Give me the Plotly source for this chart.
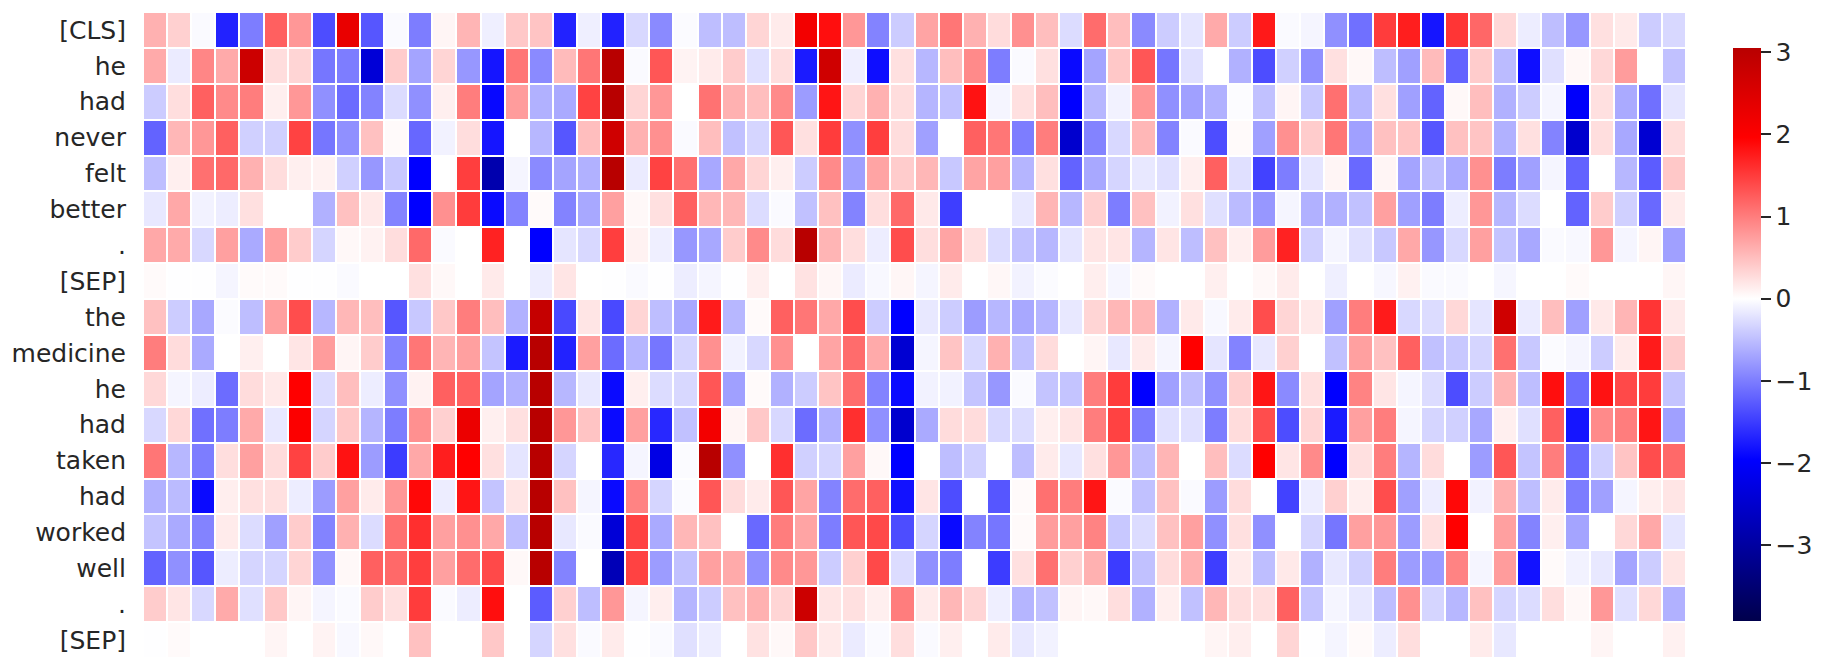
import plotly.graph_objects as go

tokens = ["[CLS]", "he", "had", "never", "felt", "better", ".", "[SEP]", "the", "medicine",
          "he", "had", "taken", "had", "worked", "well", ".", "[SEP]"]

r00 = [.6,.36,-.04,-1.7,-1,1.22,.8,-1.37,2.3,-1.3,-.04,-1,.08,.57,-.12,.42,.45,-1.7,-.12,
       -1.7,-.3,-.9,-.03,-.5,-.5,.32,.15,2.15,1.85,.8,-.95,-.39,.7,1.05,.6,.27,.85,.5,-.27,1.13,.5,-.9,-.39,-.2,
       .65,-.39,1.77,-.04,-.08,-.85,-1.1,1.5,1.73,-1.8,1.55,1.17,.3,-.14,-.5,-.8,.24,.16,-.39,-.3]
r01 = [.65,-.15,.93,.65,2.75,.26,.32,-1.05,-1,-2.4,.39,-.7,.32,-.8,-1.8,1.05,-.9,.52,1.05,
       3.05,-.04,1.3,.09,.15,.39,-.24,.25,-1.75,2.7,-.12,-1.85,.24,-.55,.5,.9,-1,-.04,.24,-1.88,-.7,.42,1.3,-1.05,-.24,
       0,-.6,-1.37,-.36,-.85,.24,.05,-.5,-.73,.52,-1.2,.39,-.52,-1.85,-.24,.05,.3,.76,0,-.48]
r02 = [-.39,.25,1.22,.9,1,.12,.8,-.85,-1.13,-.95,-.27,-.85,.12,1,-1.9,.76,-.6,-.65,1.45,
       3.05,.32,.8,0,1.08,.6,.5,.9,-.76,1.8,.32,.6,.26,-.57,-.48,1.82,-.08,.24,.5,-1.96,-.55,-.1,.8,-.85,-.73,
       -.6,-.02,-.48,.08,-.42,1.1,-.55,.24,-.73,-1.2,.05,.5,-.6,-.39,-.08,-2.0,.24,-.65,-1.1,-.2]
r03 = [-1.2,.55,.8,1.22,-.36,-.36,1.45,-1.05,-.85,.48,.04,-1.17,-.1,.26,-1.8,0,-.55,-1.3,.5,
       2.7,.6,.85,-.04,.5,-.48,-.32,1.3,.24,1.5,-.85,1.48,.26,-.73,0,1.22,1.05,-1,1,-2.5,-.95,-.3,.55,-.95,-.04,
       -1.37,.04,-.73,.85,.39,1.05,-.73,.48,.45,-1.3,.48,.45,-.6,.24,-.95,-2.5,.25,-.67,-2.45,.26]
r04 = [-.5,.12,1.1,1.15,.6,.26,.12,.1,-.36,-.8,-.42,-1.96,0,1.48,-2.85,-.08,-.9,-.7,-.6,
       3.05,-.15,1.45,1.1,-.67,.67,.32,.12,-.39,.9,-.73,.7,.39,.55,-.42,.7,.73,-.57,.24,-1.2,-.67,-.32,-.18,-.24,.12,
       1.22,-.24,-1.45,-1,-.2,.08,-1.15,.08,-.7,-.5,-.65,.85,-1,-.73,-.08,-1.2,0,-.55,-1.25,.42]
r05 = [-.18,.67,-.1,-.14,.24,0,0,-.6,.48,.17,-.95,-1.96,.85,1.5,-1.88,-.95,.04,-.95,-.67,
       .73,.05,.24,1.22,.55,.55,-.27,-.04,-.48,.48,-.95,.25,1.15,.17,-1.48,0,0,-.18,.57,-.55,.36,-1,.48,-.1,.24,
       -.24,-.52,-.8,-.08,-.6,-.6,-.48,.73,-.73,-1,-.14,.8,-.55,-.27,0,-1.2,.39,-.36,-1.15,.15]
r06 = [.67,.65,-.3,.73,-.65,.73,.39,-.32,.05,.1,.26,1.15,-.04,0,1.7,0,-1.96,-.2,-.3,
       1.48,.1,-.12,-.8,-.67,.39,.9,.27,3.05,.57,.25,-.14,1.37,.25,.7,.24,-.27,-.48,-.55,-.2,.2,.2,-.57,.2,-.5,
       .48,.12,.76,1.7,-.36,-.08,-.24,-.42,.67,-.8,-.3,.73,-.45,-.67,-.04,-.05,.8,-.08,.08,-.73]
r07 = [.04,-.01,-.01,-.08,.04,.04,-.01,-.01,-.04,0,0,.24,.05,0,.16,0,-.14,.2,0,
       -.01,-.04,-.01,-.14,-.08,-.01,.12,0,.22,.07,-.15,-.05,.07,-.08,.15,0,.06,-.1,-.03,0,.13,-.07,.04,0,0,
       .12,0,.05,.15,0,-.12,0,-.06,.11,-.04,-.04,0,-.07,0,0,.04,0,0,0,.07]
r08 = [.48,-.39,-.67,-.03,-.5,.73,1.37,-.55,.55,.5,-1.3,-.42,.42,1,.5,-.6,2.85,-1.4,.2,
       -1.4,.32,-.5,-.67,1.75,-.55,.04,1.22,1.05,.67,1.37,-.39,-1.96,-.18,-.39,-.76,-.55,-.67,-.57,-.18,.32,.55,.55,-.6,.16,
       -.05,.15,1.37,.32,.17,-.73,1,1.75,-.3,-.27,.3,-.2,2.7,-.15,.5,-.73,.17,.57,1.55,.17]
r09 = [1,.27,-.65,0,.12,0,.2,.76,.08,.39,-.95,1.05,.57,.73,-.45,-1.75,3.05,-1.7,.73,
       -1.13,-.57,-1.05,-.32,.85,-.1,-.3,.85,0,.7,1.13,.65,-2.45,-.08,.45,-.3,.6,-.48,.27,0,.08,-.18,.15,-.08,1.96,
       -.2,-.95,-.18,.36,0,-.48,.73,.48,1.22,-.48,-.42,-.32,1.1,-.42,-.03,-.08,-.39,.15,1.75,.39]
r10 = [.3,-.08,-.14,-1.13,.27,.17,1.96,-.27,.5,-.14,-.85,.1,1.22,1.22,-.7,-.6,3.05,-.55,-.18,
       -1.88,.12,-.27,-.3,1.3,-.73,.04,-.6,-.39,.45,1.13,-.95,-1.88,-.1,-.1,-.45,-.8,-.04,-.45,-.45,1,1.5,-1.96,-.73,-.5,
       -.85,.36,1.8,-.9,.24,-1.96,.95,.2,-.08,-.27,-1.37,-.39,.57,-.5,1.85,-1.13,1.82,1.4,1.5,-.45]
r11 = [-.3,.3,-1.1,-1,.65,-.18,2.0,-.32,.42,-.57,-1,.85,.36,2.25,.12,.24,3.05,.8,.45,
       -1.88,.73,-1.65,-.48,2.15,.08,.42,-.3,-1.13,-.6,1.6,-.85,-2.5,-.65,.27,.27,-.3,-.27,.12,.2,1,1.45,-1,-.24,-.24,
       -1,.27,1.37,-1.37,.32,-1.75,.73,1,-.08,-.32,-.36,-.67,.12,-.24,1.22,-1.8,.9,1,1.8,-.73]
r12 = [1.05,-.55,-1,.25,.73,.27,1.45,.39,1.82,-.76,-1.5,.67,1.73,1.96,.24,-.2,3.05,-.32,0,
       -1.65,-.08,-2.25,-.03,3.05,-.85,0,1.6,-.36,-.32,.73,.05,-1.96,0,-.5,-.36,0,-.5,.15,-.18,.24,.8,-.5,.57,0,
       .5,-.27,1.96,.2,.9,-1.96,.24,1,-.57,.27,0,-.76,1.3,-.45,1,-1.15,-.36,.45,1.37,1.15]
r13 = [-.6,-.52,-1.88,.13,.24,.24,-.14,-.76,.73,.15,.8,1.9,-.14,1.8,-.45,.2,3.05,.48,-.08,
       -1.88,.95,-.32,-.03,1.3,.27,.15,1.3,.7,-.95,1.13,1.22,-1.82,.2,-1.37,0,-1.3,.04,1.1,1,1.8,-.04,-.48,.48,-.04,
       -.76,.27,0,-1.45,-.14,.36,.13,1.37,-.73,-.14,1.9,-.1,.6,-.5,.15,-1,-.73,-.08,.13,.2]
r14 = [-.45,-.65,-.95,.15,-.27,-.73,.39,-.95,.6,-.27,1.1,1.6,.73,.85,.67,-.5,3.05,-.18,-.04,
       -2.4,1.45,-.65,.55,.48,0,-1.15,1,.7,-1,1.3,1.4,-1.37,-.32,-1.88,-.95,-1.05,.04,.76,.73,.95,-.42,-.27,.48,.73,
       -.85,.24,-.85,0,-.32,-1.05,.73,.8,-.76,.24,1.96,0,.73,-.95,.12,-.7,0,.3,.67,-.2]
r15 = [-1.2,-.85,-1.3,-.14,-.32,-.32,.32,-.85,.05,1.22,1.15,1.48,.73,1.13,1.4,.05,3.05,-.95,0,
       -2.75,1.45,-.76,-.48,.73,.65,-.85,.9,.8,-.39,.36,1.4,-.27,-.85,-1,0,-1.5,.24,1.1,.36,.6,-1.5,-.48,.27,.6,
       -1.48,.15,-.5,.17,-.6,-.18,-.36,1,-.76,-.76,.95,-.08,.76,-1.82,.04,-.1,-.18,-.7,-.39,.2]
r16 = [.39,.2,-.3,.65,-.24,.42,.08,-.08,-.04,.39,.24,1.5,-.04,-.14,1.85,0,-1.25,.36,-.5,
       .8,-.08,.13,-.57,-.39,.48,.6,.32,2.75,.2,.24,.12,1,.15,.55,.32,-.12,-.57,-.48,.08,.05,.25,-.6,.12,-.48,
       .55,.25,.24,1.22,-.45,-.08,-.18,-.5,.85,-.32,-.55,.48,-.32,-.27,.25,.05,.8,-.24,.3,-.6]
r17 = [-.01,.04,0,0,0,.08,0,.09,-.05,.05,0,.48,0,0,.42,0,-.32,.24,-.04,
       .15,-.01,-.04,-.24,-.14,0,.22,.05,.42,.16,-.15,-.04,.25,-.04,.12,0,.15,-.18,-.1,0,0,0,0,0,0,
       .08,.13,0,.32,-.01,-.08,.04,-.14,.25,0,0,.15,-.18,0,0,0,.08,0,0,.11]

z = [r00, r01, r02, r03, r04, r05, r06, r07, r08, r09, r10, r11, r12, r13, r14, r15, r16, r17]

vmin, vmax = -3.92, 3.05


def pos(v):
    return (v - vmin) / (vmax - vmin)


colorscale = [
    [0.0, "rgb(0,0,76)"],
    [pos(-1.96), "rgb(0,0,255)"],
    [pos(0), "rgb(255,255,255)"],
    [pos(1.96), "rgb(255,0,0)"],
    [1.0, "rgb(184,0,0)"],
]

W, H = 1810, 654          # page body adds an 8px margin
L, R, T, B = 135, 1678, 4, 650   # plot area in figure pixels
pw, ph = R - L, B - T
cb_left, cb_top, cb_bottom = 1725, 40, 613

fig = go.Figure(go.Heatmap(
    z=z,
    x=list(range(64)),
    y=list(range(18)),
    zmin=vmin, zmax=vmax,
    colorscale=colorscale,
    xgap=2, ygap=2,
    colorbar=dict(
        thickness=28, thicknessmode="pixels",
        len=cb_bottom - cb_top, lenmode="pixels",
        x=(cb_left - L) / pw, xanchor="left",
        y=1 - (cb_top - T) / ph, yanchor="top",
        xpad=0, ypad=0,
        outlinewidth=0,
        tickmode="array",
        tickvals=[-3, -2, -1, 0, 1, 2, 3],
        ticks="outside", ticklen=10, tickwidth=2, tickcolor="#262626",
        tickfont=dict(family="DejaVu Sans", size=25, color="#262626"),
    ),
))

fig.update_layout(
    width=W, height=H,
    margin=dict(l=L, r=W - R, t=T, b=H - B, autoexpand=False),
    paper_bgcolor="white", plot_bgcolor="white",
    xaxis=dict(visible=False, range=[-0.5, 63.5]),
    yaxis=dict(
        range=[17.5, -0.5],
        tickmode="array", tickvals=list(range(18)), ticktext=tokens,
        ticks="", showgrid=False, zeroline=False, showline=False,
        ticklabelstandoff=16,
        tickfont=dict(family="DejaVu Sans", size=25, color="#262626"),
    ),
)

fig.write_html("out.html")
